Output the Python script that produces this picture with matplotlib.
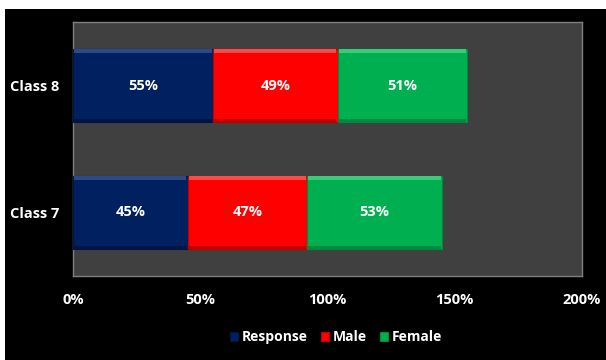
import matplotlib
matplotlib.use("Agg")
import matplotlib.pyplot as plt
from matplotlib.patches import Rectangle
import numpy as np

categories = ["Class 7", "Class 8"]
series_names = ["Response", "Male", "Female"]
response = [45, 55]
male = [47, 49]
female = [53, 51]
xticks = [0, 50, 100, 150, 200]
xtick_labels = ["0%", "50%", "100%", "150%", "200%"]

colors = ["#002060", "#FF0000", "#00B050"]
light = ["#2A4A88", "#FF4A4A", "#3ACB78"]
dark = ["#001545", "#C00000", "#008A40"]

plt.rcParams['font.family'] = ['Open Sans', 'DejaVu Sans']

W, H = 606, 360
fig = plt.figure(figsize=(W / 100, H / 100), dpi=100, facecolor="white")
fig.patches.append(Rectangle((5 / W, 0), 1 - 5 / W, 1 - 9 / H, transform=fig.transFigure,
                             facecolor="black", edgecolor="none", zorder=-10))

ax = fig.add_axes([73 / W, 1 - 276 / H, (582 - 73) / W, (276 - 22) / H])
ax.set_zorder(1)
ax.set_facecolor("#404040")
for s in ax.spines.values():
    s.set_color("#7F7F7F")
    s.set_linewidth(1.0)

y = np.arange(len(categories))
h = 0.58
left = np.zeros(len(categories))
handles = []
for vals, name, c, lc, dc in zip([response, male, female], series_names, colors, light, dark):
    vals = np.array(vals, dtype=float)
    b = ax.barh(y, vals, left=left, height=h, color=c, edgecolor=dc, linewidth=0.8,
                label=name, zorder=3)
    handles.append(b)
    # subtle bevel: highlight at top, shadow at bottom
    ax.barh(y + h / 2 - 0.02, vals - 1.0, left=left + 0.5, height=0.035, color=lc,
            edgecolor="none", zorder=4)
    ax.barh(y - h / 2 + 0.015, vals - 1.0, left=left + 0.5, height=0.025, color=dc,
            edgecolor="none", zorder=4)
    for yi, v, l in zip(y, vals, left):
        ax.text(l + v / 2, yi, f"{int(v)}%", ha="center", va="center", color="white",
                fontsize=10.5, fontweight="bold", zorder=5)
    left = left + vals

ax.set_xlim(0, 200)
ax.set_ylim(-0.5, 1.5)
ax.set_xticks(xticks)
ax.set_xticklabels(xtick_labels)
ax.set_yticks(y)
ax.set_yticklabels(categories)
ax.tick_params(axis="both", length=0, colors="white", labelsize=10.5)
ax.tick_params(axis="x", pad=12)
ax.tick_params(axis="y", pad=10)
for lbl in ax.get_xticklabels() + ax.get_yticklabels():
    lbl.set_fontweight("bold")
    lbl.set_color("white")

leg = fig.legend(handles=handles, labels=series_names, loc="center",
                 bbox_to_anchor=(336 / W, 1 - 337 / H), ncol=3, frameon=False,
                 handlelength=0.6, handleheight=0.6, handletextpad=0.3, columnspacing=0.9,
                 prop={"weight": "bold", "size": 10})
for t in leg.get_texts():
    t.set_color("white")

fig.savefig("out.png", dpi=100, facecolor=fig.get_facecolor())
